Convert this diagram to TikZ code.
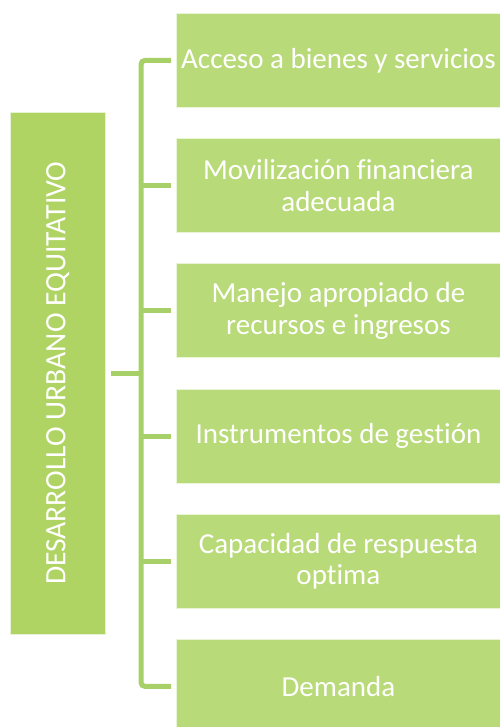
\documentclass[tikz,border=0pt]{standalone}
\usepackage{fontspec}
\setmainfont[Ligatures=NoCommon]{Carlito}
\definecolor{mainG}{RGB}{176,212,100}
\definecolor{boxG}{RGB}{185,218,120}
\definecolor{connG}{RGB}{168,208,104}
\begin{document}
\begin{tikzpicture}[x=1pt,y=-1pt,
  rbox/.style={draw=white!70!boxG, line width=0.8pt, fill=boxG, minimum width=324pt, minimum height=94pt, anchor=north west, inner sep=0pt, text=white, align=center, font=\fontsize{29}{31.5}\selectfont},
  mbox/.style={draw=white!70!mainG, line width=0.8pt, fill=mainG, minimum width=94.5pt, minimum height=521.5pt, inner sep=0pt},
  conn/.style={draw=connG, line width=5pt}]
\clip (0,0) rectangle (500,727);
\fill[white] (0,0) rectangle (500,727);
\node[mbox] (main) at (57.75,373.25) {};
\node[text=white, rotate=90, font=\fontsize{29.6}{32}\selectfont] (mainlabel) at (main.center) {DESARROLLO URBANO EQUITATIVO};
\node[rbox] (r1) at (176,13) {Acceso a bienes y servicios};
\node[rbox] (r2) at (176,138.2) {Movilización financiera\\adecuada};
\node[rbox] (r3) at (176,263.4) {Manejo apropiado de\\recursos e ingresos};
\node[rbox] (r4) at (176,388.6) {Instrumentos de gestión};
\node[rbox] (r5) at (176,513.8) {Capacidad de respuesta\\optima};
\node[rbox] (r6) at (176,639) {Demanda};
\coordinate (sp) at (141,0);
\draw[conn, rounded corners=4pt] ([xshift=-5pt]r1.west) -- (r1.west -| sp) -- (r6.west -| sp) -- ([xshift=-5pt]r6.west);
\foreach \n in {r2,r3,r4,r5} \draw[conn] ([xshift=-5pt]\n.west) -- (\n.west -| sp);
\draw[conn] ([xshift=6pt]main.east) -- (main.east -| sp);
\end{tikzpicture}
\end{document}
